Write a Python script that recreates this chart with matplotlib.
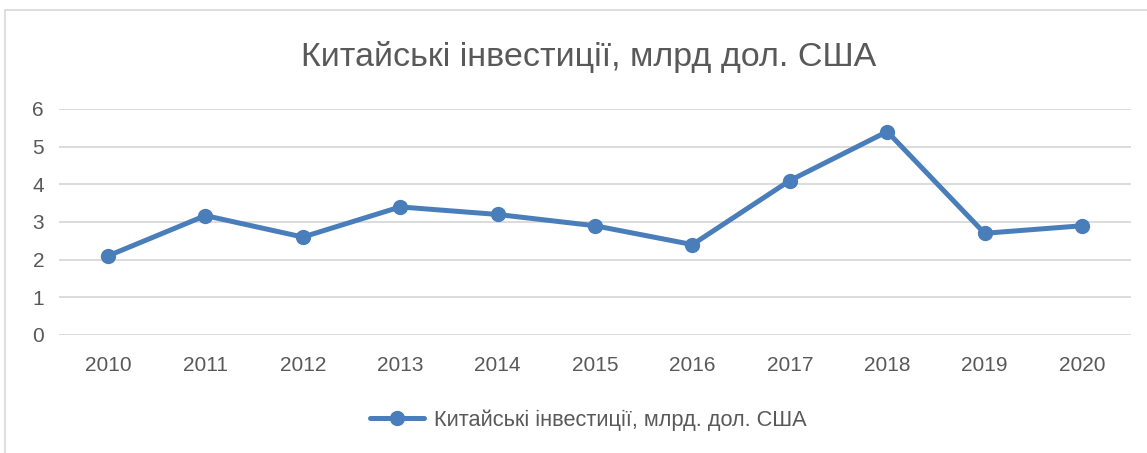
import matplotlib.pyplot as plt
from matplotlib.patches import Rectangle

years = ['2010', '2011', '2012', '2013', '2014', '2015', '2016', '2017', '2018', '2019', '2020']
invest = [2.1, 3.17, 2.6, 3.4, 3.2, 2.9, 2.4, 4.1, 5.4, 2.7, 2.9]
yticks = [0, 1, 2, 3, 4, 5, 6]

title = 'Китайські інвестиції, млрд дол. США'
series_name = 'Китайські інвестиції, млрд. дол. США'

blue = '#4A7EBB'
grey = '#595959'

plt.rcParams['font.family'] = ['Liberation Sans', 'DejaVu Sans']

fig = plt.figure(figsize=(11.47, 4.53), dpi=100)
# рамка навколо діаграми
fig.patches.append(Rectangle((5 / 1147, -0.1), 1.2, 1.1 - 10 / 453, transform=fig.transFigure,
                             fill=False, edgecolor='#d9d9d9', linewidth=1.2))

ax = fig.add_axes([0.0517, 0.2605, 0.9341, 0.4989])
x = list(range(len(years)))
ax.plot(x, invest, color=blue, linewidth=3.6, marker='o', markersize=10, label=series_name,
        solid_capstyle='round')

ax.set_xlim(-0.5, len(years) - 0.5)
ax.set_ylim(0, 6)
ax.set_yticks(yticks)
ax.set_xticks(x)
ax.set_xticklabels(years)
ax.grid(axis='y', color='#d9d9d9', linewidth=1.3)
ax.set_axisbelow(True)
for s in ax.spines.values():
    s.set_visible(False)
ax.tick_params(length=0, labelsize=15, colors=grey)
ax.tick_params(axis='x', pad=15)
ax.tick_params(axis='y', pad=11)

fig.text(0.513, 0.875, title, ha='center', va='center', fontsize=24.5, color=grey)

leg = fig.legend(loc='center', bbox_to_anchor=(0.513, 0.073), frameon=False, fontsize=15.7,
                 handlelength=2.5, handletextpad=0.45)
for t in leg.get_texts():
    t.set_color(grey)

fig.savefig('out.png', dpi=100)
